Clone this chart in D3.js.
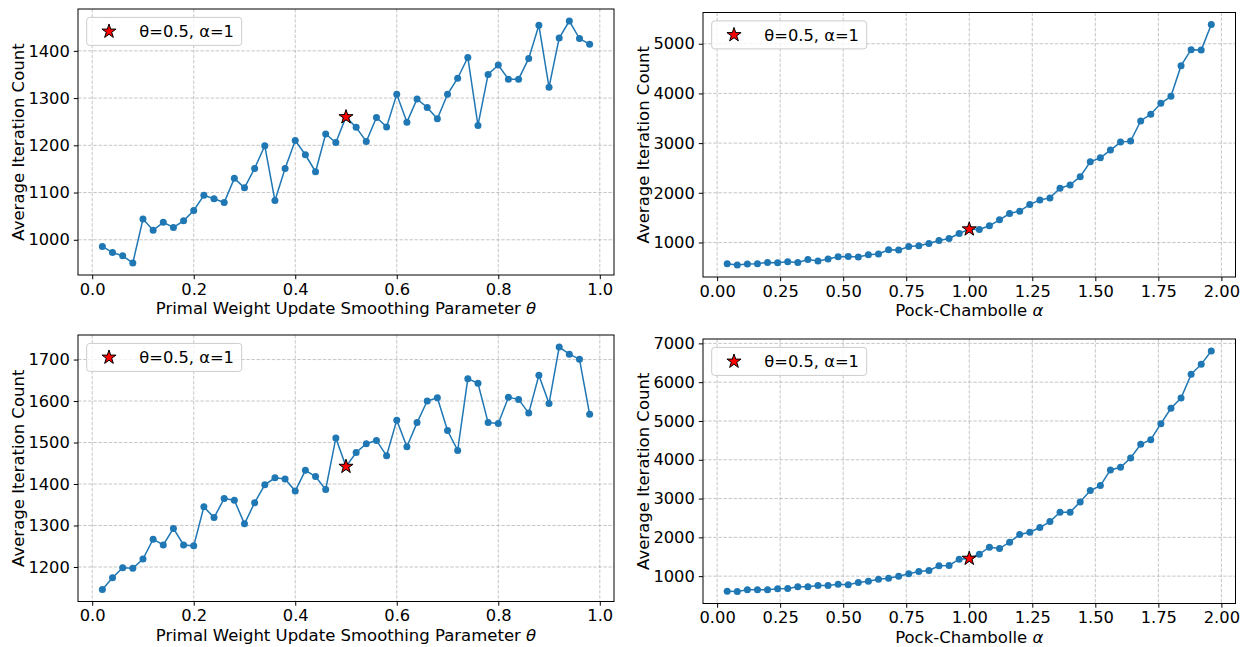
<!DOCTYPE html>
<html>
<head>
<meta charset="utf-8">
<script src="https://cdn.jsdelivr.net/npm/d3@7"></script>
<style>
  body { margin: 0; background: #fff; }
  text { font-family: "DejaVu Sans", sans-serif; fill: #000; }
</style>
</head>
<body>
<script>
'use strict'

// x values of the two sweeps
var thetaValues = [0.02, 0.04, 0.06, 0.08, 0.10, 0.12, 0.14, 0.16, 0.18, 0.20,
  0.22, 0.24, 0.26, 0.28, 0.30, 0.32, 0.34, 0.36, 0.38, 0.40,
  0.42, 0.44, 0.46, 0.48, 0.50, 0.52, 0.54, 0.56, 0.58, 0.60,
  0.62, 0.64, 0.66, 0.68, 0.70, 0.72, 0.74, 0.76, 0.78, 0.80,
  0.82, 0.84, 0.86, 0.88, 0.90, 0.92, 0.94, 0.96, 0.98]
var alphaValues = [0.04, 0.08, 0.12, 0.16, 0.20, 0.24, 0.28, 0.32, 0.36, 0.40,
  0.44, 0.48, 0.52, 0.56, 0.60, 0.64, 0.68, 0.72, 0.76, 0.80,
  0.84, 0.88, 0.92, 0.96, 1.00, 1.04, 1.08, 1.12, 1.16, 1.20,
  1.24, 1.28, 1.32, 1.36, 1.40, 1.44, 1.48, 1.52, 1.56, 1.60,
  1.64, 1.68, 1.72, 1.76, 1.80, 1.84, 1.88, 1.92, 1.96]

// average iteration counts
var topTheta = [986, 973, 966, 951, 1044, 1020, 1037, 1026, 1040, 1062,
  1094, 1087, 1079, 1130, 1110, 1151, 1199, 1083, 1151, 1210,
  1180, 1144, 1224, 1206, 1260, 1238, 1208, 1259, 1239, 1308,
  1249, 1298, 1280, 1256, 1308, 1342, 1386, 1242, 1350, 1370,
  1340, 1340, 1384, 1454, 1323, 1427, 1463, 1426, 1414]
var topAlpha = [573, 547, 567, 573, 599, 593, 613, 599, 659, 626,
  666, 713, 719, 706, 753, 767, 853, 846, 920, 934,
  980, 1040, 1080, 1181, 1268, 1261, 1335, 1455, 1582, 1630,
  1763, 1857, 1897, 2091, 2158, 2324, 2625, 2705, 2860, 3020,
  3040, 3447, 3582, 3802, 3943, 4559, 4880, 4872, 5387]
var bottomTheta = [1146, 1174, 1198, 1197, 1219, 1267, 1253, 1293, 1253, 1251,
  1345, 1319, 1365, 1361, 1304, 1355, 1398, 1415, 1412, 1383,
  1433, 1418, 1387, 1511, 1442, 1476, 1497, 1505, 1468, 1554,
  1490, 1548, 1600, 1608, 1529, 1481, 1654, 1643, 1548, 1546,
  1609, 1604, 1571, 1662, 1594, 1730, 1713, 1701, 1568]
var bottomAlpha = [614, 605, 648, 648, 648, 674, 682, 725, 725, 760,
  760, 794, 777, 837, 871, 923, 948, 1000, 1060, 1120,
  1146, 1266, 1275, 1438, 1455, 1567, 1747, 1712, 1876, 2073,
  2133, 2253, 2408, 2648, 2648, 2914, 3206, 3335, 3738, 3807,
  4047, 4399, 4519, 4931, 5326, 5592, 6202, 6459, 6803]

// ticks
var thetaTicks = [0.0, 0.2, 0.4, 0.6, 0.8, 1.0]
var alphaTicks = [0.00, 0.25, 0.50, 0.75, 1.00, 1.25, 1.50, 1.75, 2.00]
var topThetaTicks = [1000, 1100, 1200, 1300, 1400]
var topAlphaTicks = [1000, 2000, 3000, 4000, 5000]
var bottomThetaTicks = [1200, 1300, 1400, 1500, 1600, 1700]
var bottomAlphaTicks = [1000, 2000, 3000, 4000, 5000, 6000, 7000]

var chosenTheta = 0.5
var chosenAlpha = 1.0
var legendLabel = 'θ=0.5, α=1'
var yLabel = 'Average Iteration Count'

var blue = '#1f77b4'

var panels = [
  { box: [78, 9, 614, 275], xs: thetaValues, ys: topTheta, xTicks: thetaTicks, yTicks: topThetaTicks,
    fmt: '.1f', mark: chosenTheta, xlabel: ['Primal Weight Update Smoothing Parameter ', 'θ'] },
  { box: [703, 12.5, 1235.5, 277], xs: alphaValues, ys: topAlpha, xTicks: alphaTicks, yTicks: topAlphaTicks,
    fmt: '.2f', mark: chosenAlpha, xlabel: ['Pock-Chambolle ', 'α'] },
  { box: [78, 335, 614, 601.5], xs: thetaValues, ys: bottomTheta, xTicks: thetaTicks, yTicks: bottomThetaTicks,
    fmt: '.1f', mark: chosenTheta, xlabel: ['Primal Weight Update Smoothing Parameter ', 'θ'] },
  { box: [703, 339, 1235.5, 603.5], xs: alphaValues, ys: bottomAlpha, xTicks: alphaTicks, yTicks: bottomAlphaTicks,
    fmt: '.2f', mark: chosenAlpha, xlabel: ['Pock-Chambolle ', 'α'] }
]

var svg = d3.select('body').append('svg')
  .attr('width', 1246)
  .attr('height', 647)

// matplotlib style 5% margin around the data
function padded (values) {
  var ext = d3.extent(values)
  var m = (ext[1] - ext[0]) * 0.05
  return [ext[0] - m, ext[1] + m]
}

panels.forEach(function (p) {
  var left = p.box[0], top = p.box[1], right = p.box[2], bottom = p.box[3]
  var x = d3.scaleLinear().domain(padded(p.xs)).range([left, right])
  var y = d3.scaleLinear().domain(padded(p.ys)).range([bottom, top])
  var pts = p.xs.map(function (v, i) { return { x: v, y: p.ys[i] } })

  var g = svg.append('g')

  // grid
  var grid = g.append('g')
    .attr('stroke', '#b0b0b0')
    .attr('stroke-opacity', 0.8)
    .attr('stroke-width', 0.9)
    .attr('stroke-dasharray', '3.5,1.6')
  grid.selectAll(null).data(p.xTicks).enter().append('line')
    .attr('x1', function (d) { return x(d) }).attr('x2', function (d) { return x(d) })
    .attr('y1', top).attr('y2', bottom)
  grid.selectAll(null).data(p.yTicks).enter().append('line')
    .attr('y1', function (d) { return y(d) }).attr('y2', function (d) { return y(d) })
    .attr('x1', left).attr('x2', right)

  // axes
  var xAxis = g.append('g')
    .attr('transform', 'translate(0,' + bottom + ')')
    .call(d3.axisBottom(x).tickValues(p.xTicks).tickFormat(d3.format(p.fmt)).tickSize(4.2).tickPadding(3.8))
  var yAxis = g.append('g')
    .attr('transform', 'translate(' + left + ',0)')
    .call(d3.axisLeft(y).tickValues(p.yTicks).tickFormat(d3.format('d')).tickSize(4.2).tickPadding(4))
  ;[xAxis, yAxis].forEach(function (a) {
    a.select('.domain').remove()
    a.selectAll('.tick line').attr('stroke', '#000').attr('stroke-width', 1)
    a.selectAll('.tick text').style('font-size', '16.3px').attr('fill', '#000')
  })

  // line + markers
  g.append('path')
    .datum(pts)
    .attr('fill', 'none')
    .attr('stroke', blue)
    .attr('stroke-width', 1.5)
    .attr('d', d3.line().x(function (d) { return x(d.x) }).y(function (d) { return y(d.y) }))
  g.selectAll(null).data(pts).enter().append('circle')
    .attr('cx', function (d) { return x(d.x) })
    .attr('cy', function (d) { return y(d.y) })
    .attr('r', 3.5)
    .attr('fill', blue)

  var star = d3.symbol().type(d3.symbolStar).size(62)
  var chosen = pts.filter(function (d) { return Math.abs(d.x - p.mark) < 1e-9 })
  g.selectAll(null).data(chosen).enter().append('path')
    .attr('d', star)
    .attr('transform', function (d) { return 'translate(' + x(d.x) + ',' + y(d.y) + ')' })
    .attr('fill', 'red')
    .attr('stroke', '#000')
    .attr('stroke-width', 1)

  // frame
  g.append('rect')
    .attr('x', left).attr('y', top)
    .attr('width', right - left).attr('height', bottom - top)
    .attr('fill', 'none')
    .attr('stroke', '#000')
    .attr('stroke-width', 1)

  // labels
  var xl = g.append('text')
    .attr('x', (left + right) / 2)
    .attr('y', bottom + 39)
    .attr('text-anchor', 'middle')
    .style('font-size', '16.5px')
  xl.append('tspan').text(p.xlabel[0])
  xl.append('tspan').style('font-style', 'italic').text(p.xlabel[1])

  g.append('text')
    .attr('transform', 'translate(' + (left - 54) + ',' + ((top + bottom) / 2) + ') rotate(-90)')
    .attr('text-anchor', 'middle')
    .style('font-size', '16.5px')
    .text(yLabel)

  // legend
  var lx = left + 8.7, ly = top + 8.4
  var leg = g.append('g')
  leg.append('rect')
    .attr('x', lx).attr('y', ly)
    .attr('width', 155).attr('height', 28)
    .attr('rx', 3)
    .attr('fill', '#fff').attr('fill-opacity', 0.8)
    .attr('stroke', '#cccccc')
  leg.append('path')
    .attr('d', star)
    .attr('transform', 'translate(' + (lx + 22.3) + ',' + (ly + 14) + ')')
    .attr('fill', 'red')
    .attr('stroke', '#000')
  leg.append('text')
    .attr('x', lx + 52.6)
    .attr('y', ly + 14)
    .attr('dy', '0.36em')
    .style('font-size', '16.3px')
    .text(legendLabel)
})
</script>
</body>
</html>
